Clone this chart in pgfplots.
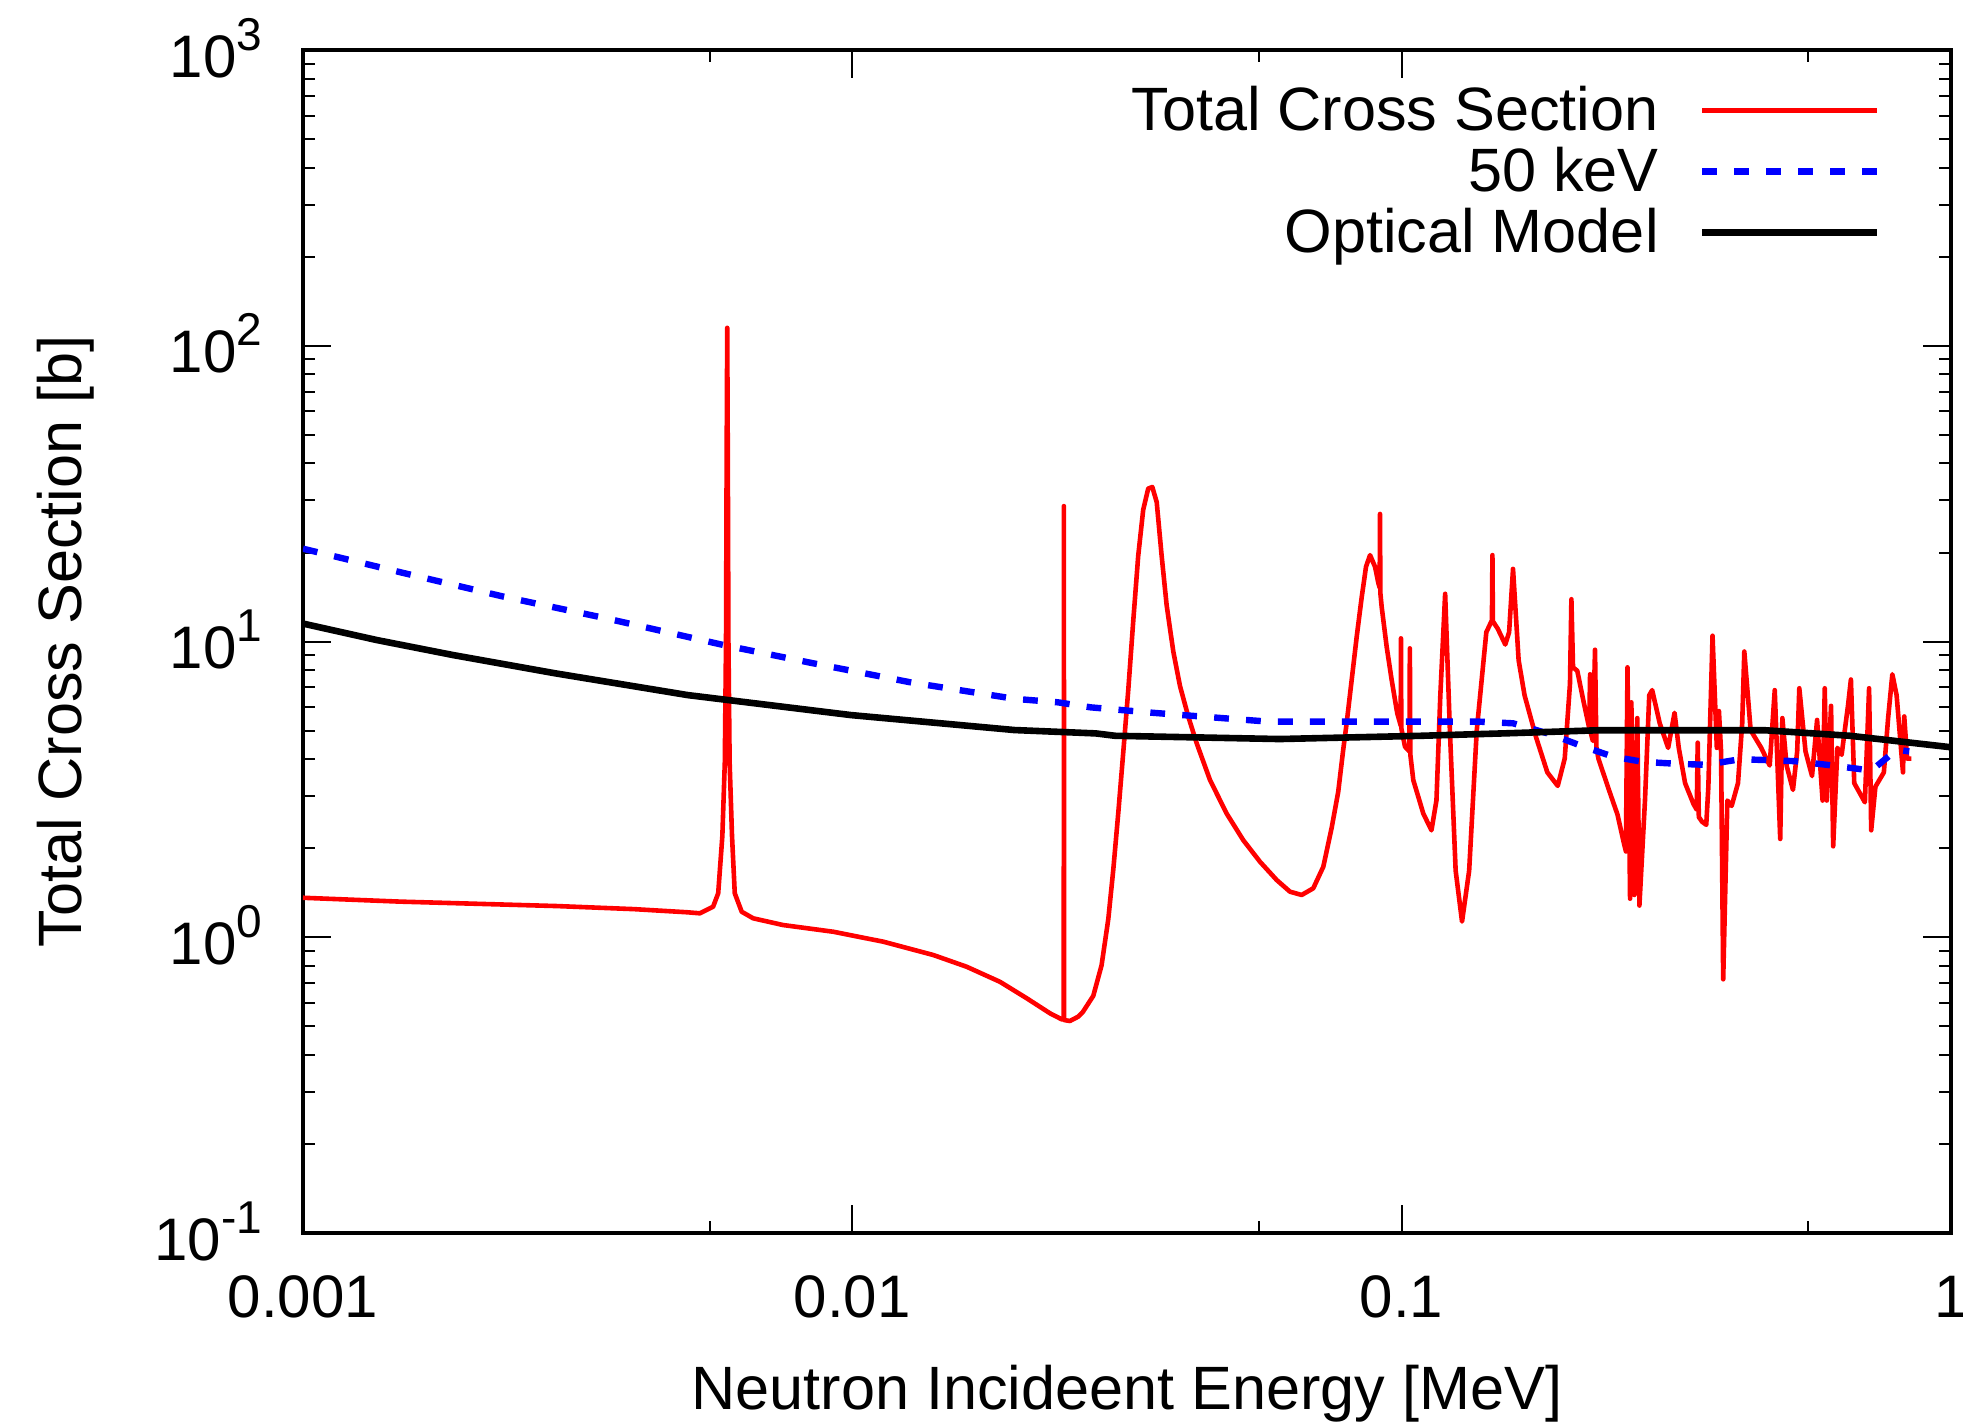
\documentclass[border=0pt]{standalone}
\usepackage{fontspec}
\setmainfont{Liberation Sans}
\usepackage{pgfplots}
\pgfplotsset{compat=1.18}
\newcommand{\sups}[1]{\raisebox{6.8pt}{\fontsize{11.5pt}{12pt}\selectfont #1}}
\begin{document}
\fontsize{15pt}{18pt}\selectfont%
\begin{tikzpicture}
\useasboundingbox (-75.75pt,-48.5pt) rectangle (415pt,308.25pt);
\begin{axis}[
  at={(0pt,0pt)}, anchor=south west, scale only axis,
  width=412pt, height=295.75pt,
  xmode=log, ymode=log,
  xmin=0.001, xmax=1, ymin=0.1, ymax=1000,
  xtick={0.001,0.01,0.1,1},
  xticklabels={0.001,0.01,0.1,1},
  minor xtick={0.0055,0.055,0.55},
  ytick={0.1,1,10,100,1000},
  yticklabels={{10\sups{-1}},{10\sups{0}},{10\sups{1}},{10\sups{2}},{10\sups{3}}},
  minor ytick={0.2,0.3,0.4,0.5,0.6,0.7,0.8,0.9,2,3,4,5,6,7,8,9,20,30,40,50,60,70,80,90,200,300,400,500,600,700,800,900},
  xticklabel style={anchor=base, yshift=-21pt, inner sep=0pt},
  yticklabel style={anchor=base east, xshift=-10pt, yshift=-6.8pt, inner sep=0pt},
  axis line style={line width=1.1pt},
  tick style={line width=0.5pt, black},
  major tick length=7pt, minor tick length=3pt,
  xlabel={Neutron Incideent Energy [MeV]},
  ylabel={Total Cross Section [b]},
  every axis x label/.style={at={(axis description cs:0.5,-0.14878)}, anchor=base, inner sep=0pt, font=\fontsize{15.3pt}{18pt}\selectfont},
  every axis y label/.style={at={(axis description cs:-0.1341,0.5)}, rotate=90, anchor=base, inner sep=0pt, font=\fontsize{15.3pt}{18pt}\selectfont},
  legend style={draw=none, fill=none, at={(rel axis cs:0.9576,0.9696)}, anchor=north east, inner sep=0pt, row sep=3.2pt, column sep=10pt, font=\fontsize{15.3pt}{18pt}\selectfont, nodes={inner sep=0pt, text height=11pt, text depth=1pt}},
  legend cell align=right, legend plot pos=right,
  legend image code/.code={\draw[#1] (0pt,0pt) -- (43.75pt,0pt);},
]
\addplot[red, line width=1.15pt, line join=round] coordinates {
(0.001,1.36) (0.0015,1.32) (0.0029,1.275) (0.0040,1.245) (0.00500,1.215) (0.00528,1.205)
(0.00558,1.269) (0.00570,1.408) (0.00580,2.2) (0.00586,3.9) (0.00589,10) (0.005905,40)
(0.00592,115) (0.005935,40) (0.00595,10) (0.00598,3.9) (0.00604,2.2) (0.00611,1.408)
(0.00629,1.22) (0.00660,1.159) (0.00748,1.100) (0.00923,1.044) (0.01139,0.966) (0.01404,0.871)
(0.01615,0.795) (0.01857,0.707) (0.02077,0.622) (0.02291,0.553) (0.02405,0.528) (0.02426,0.527)
(0.024275,28.7) (0.02429,0.525) (0.02489,0.521) (0.02578,0.539) (0.0263,0.56) (0.02746,0.634)
(0.02843,0.804) (0.02924,1.151) (0.02986,1.694) (0.0305,2.65) (0.03115,4.27) (0.0318,6.88)
(0.03247,11.76) (0.03315,19.5) (0.03385,27.9) (0.03457,32.9) (0.03517,33.3) (0.03582,29.6)
(0.03657,19.5) (0.03735,13.24) (0.0384,9.26) (0.03949,7.08) (0.04088,5.58) (0.04235,4.53)
(0.04479,3.40) (0.04802,2.62) (0.05148,2.13) (0.05523,1.80) (0.05922,1.562) (0.06262,1.426)
(0.06577,1.39) (0.06904,1.464) (0.07202,1.732) (0.0746,2.35) (0.07666,3.1) (0.07828,4.3)
(0.07942,5.3) (0.0811,7.41) (0.08283,10.38) (0.0846,14.17) (0.08613,17.9) (0.08759,19.6)
(0.08944,17.9) (0.09072,15.73) (0.0912,15.2) (0.09133,27.0) (0.09146,14.6) (0.09196,13.11)
(0.09391,9.60) (0.0959,7.41) (0.09817,5.72) (0.0996,5.2) (0.09972,10.25) (0.09985,5.1)
(0.1014,4.41) (0.1033,4.25) (0.1035,9.48) (0.1037,4.15) (0.1050,3.40) (0.1095,2.62)
(0.1133,2.30) (0.1157,2.90) (0.1176,6.58) (0.1200,14.5) (0.1224,5.01) (0.1254,1.68)
(0.1288,1.13) (0.1327,1.68) (0.1370,5.01) (0.1426,10.75) (0.1460,11.8) (0.1463,19.6)
(0.1466,11.7) (0.1496,11.05) (0.1544,9.77) (0.1569,10.75) (0.1595,17.6) (0.1633,8.64)
(0.1674,6.58) (0.1757,4.74) (0.1842,3.61) (0.1924,3.25) (0.1981,4.02) (0.2025,7.2)
(0.2037,13.9) (0.2051,8.18) (0.2088,7.96) (0.2145,6.23) (0.2195,5.1) (0.2203,7.75)
(0.2210,4.9) (0.2229,4.61) (0.2249,9.38) (0.2262,4.4) (0.2281,4.02) (0.2384,3.15)
(0.2471,2.60) (0.2537,2.09) (0.2560,1.95) (0.2577,8.18) (0.2605,1.35) (0.2619,6.23)
(0.2652,1.39) (0.2685,5.51) (0.2709,1.28) (0.2773,2.90) (0.2823,6.58) (0.2858,6.85)
(0.2950,5.29) (0.3056,4.37) (0.3139,5.74) (0.3195,4.37) (0.3281,3.32) (0.3399,2.82)
(0.3445,2.7) (0.3459,4.55) (0.3475,2.55) (0.3522,2.46) (0.3585,2.40) (0.3617,3.23)
(0.3681,10.46) (0.3748,4.37) (0.3781,5.82) (0.3815,4.25) (0.3849,0.721) (0.3917,2.90)
(0.3988,2.78) (0.4095,3.32) (0.4168,5.29) (0.4205,9.25) (0.4318,5.01) (0.4514,4.37)
(0.4677,3.81) (0.4777,6.85) (0.4888,2.15) (0.4932,5.51) (0.5020,3.81) (0.5156,3.15)
(0.5248,4.25) (0.5295,6.95) (0.5435,4.25) (0.5585,3.51) (0.5705,5.43) (0.5838,2.90)
(0.5891,6.95) (0.5943,2.90) (0.6049,6.06) (0.6103,2.03) (0.6212,4.37) (0.6323,4.14)
(0.6493,6.06) (0.6574,7.44) (0.6667,3.32) (0.6970,2.86) (0.7095,6.95) (0.7158,2.30)
(0.7286,3.23) (0.7548,3.61) (0.7684,5.51) (0.7822,7.75) (0.7963,6.58) (0.8177,3.61)
(0.8220,5.58) (0.8321,4.02) (0.847,4.02)
};
\addlegendentry{Total Cross Section}
\addplot[blue, line width=1.6pt, dash pattern=on 3.7pt off 4.3pt] coordinates {
(0.001,20.6) (0.001514,17.1) (0.002323,14.17) (0.003562,11.98) (0.005829,9.73)
(0.008383,8.48) (0.01285,7.26) (0.01977,6.4) (0.02365,6.23) (0.02716,5.99) (0.03532,5.74)
(0.05713,5.36) (0.09245,5.36) (0.138,5.36) (0.1595,5.29) (0.1873,4.85) (0.2129,4.43)
(0.2427,4.08) (0.2748,3.92) (0.3167,3.86) (0.3585,3.83) (0.4132,4.00) (0.4677,3.97)
(0.5203,3.94) (0.5943,3.83) (0.6786,3.71) (0.7158,3.66) (0.7615,4.02) (0.7963,4.31)
(0.8395,4.25)
};
\addlegendentry{50 keV}
\addplot[black, line width=1.65pt] coordinates {
(0.001,11.5) (0.001361,10.12) (0.001876,9.00) (0.002876,7.81) (0.005017,6.59)
(0.009945,5.64) (0.01972,5.02) (0.02775,4.89) (0.0301,4.80) (0.05995,4.68) (0.1085,4.80)
(0.1586,4.90) (0.227,5.01) (0.3224,5.01) (0.4596,5.01) (0.6549,4.80) (1.0,4.39)
};
\addlegendentry{Optical Model}
\end{axis}
\end{tikzpicture}
\end{document}
